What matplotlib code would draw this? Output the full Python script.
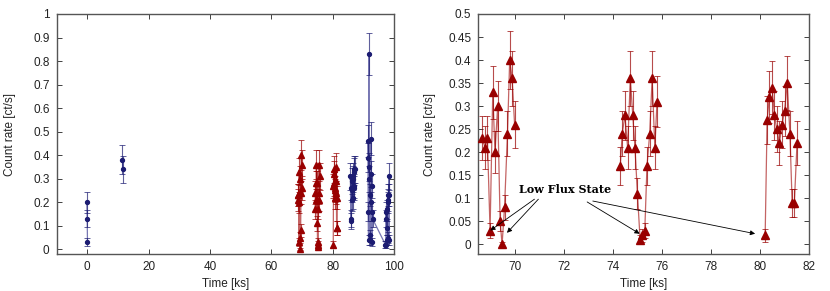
import matplotlib
matplotlib.use("Agg")
import matplotlib.pyplot as plt
from matplotlib.ticker import FuncFormatter

plt.rcParams['font.family'] = ['Liberation Sans', 'DejaVu Sans']

# ---------------- data (red: low/high flux segments, 100 s bins) ----------------
red1_t = [68.67, 68.77, 68.87, 68.98, 69.09, 69.18, 69.29, 69.39, 69.47, 69.57, 69.69, 69.78, 69.88, 69.98]
red1_r = [0.23, 0.21, 0.23, 0.03, 0.33, 0.20, 0.30, 0.05, 0.00, 0.08, 0.24, 0.40, 0.36, 0.26]
red1_e = [0.048, 0.046, 0.048, 0.017, 0.057, 0.045, 0.055, 0.022, 0.005, 0.028, 0.049, 0.063, 0.060, 0.051]

red2_t = [74.29, 74.37, 74.48, 74.59, 74.70, 74.80, 74.89, 74.99, 75.10, 75.19, 75.29, 75.38, 75.49, 75.59, 75.70, 75.79]
red2_r = [0.17, 0.24, 0.28, 0.21, 0.36, 0.28, 0.21, 0.11, 0.01, 0.02, 0.03, 0.17, 0.24, 0.36, 0.21, 0.31]
red2_e = [0.041, 0.049, 0.053, 0.046, 0.060, 0.053, 0.046, 0.033, 0.010, 0.014, 0.017, 0.041, 0.049, 0.060, 0.046, 0.056]

red3_t = [80.20, 80.28, 80.37, 80.48, 80.58, 80.67, 80.78, 80.89, 80.99, 81.10, 81.21, 81.30, 81.39, 81.50]
red3_r = [0.02, 0.27, 0.32, 0.34, 0.28, 0.25, 0.22, 0.26, 0.29, 0.35, 0.24, 0.09, 0.09, 0.22]
red3_e = [0.014, 0.052, 0.057, 0.058, 0.053, 0.050, 0.047, 0.051, 0.054, 0.059, 0.049, 0.030, 0.030, 0.047]

# ---------------- data (blue: other segments) ----------------
blue1_t = [-0.1, 0.0, 0.1]
blue1_r = [0.20, 0.13, 0.03]
blue1_e = [0.045, 0.036, 0.017]

blue2_t = [11.5, 11.6]
blue2_r = [0.38, 0.34]
blue2_e = [0.062, 0.058]

blue3_t = [85.8, 85.9, 86.0, 86.1, 86.2, 86.3, 86.4, 86.5, 86.6, 86.7, 86.8, 86.9, 87.0, 87.1, 87.2]
blue3_r = [0.31, 0.13, 0.12, 0.26, 0.21, 0.29, 0.25, 0.30, 0.22, 0.31, 0.27, 0.34, 0.26, 0.33, 0.34]
blue3_e = [0.056, 0.036, 0.035, 0.051, 0.046, 0.054, 0.050, 0.055, 0.047, 0.056, 0.052, 0.058, 0.051, 0.057, 0.058]

blue4_t = [91.4, 91.5, 91.6, 91.7, 91.8, 91.9, 92.0, 92.1, 92.2, 92.3, 92.4, 92.5, 92.6, 92.7, 92.8, 92.9, 93.0,
           97.2, 97.3, 97.4, 97.5, 97.6, 97.7, 97.8, 97.9, 98.0, 98.1, 98.2, 98.3, 98.4, 98.5]
blue4_r = [0.46, 0.39, 0.16, 0.04, 0.83, 0.35, 0.30, 0.06, 0.23, 0.04, 0.32, 0.47, 0.20, 0.27, 0.03, 0.16, 0.13,
           0.02, 0.02, 0.16, 0.13, 0.09, 0.17, 0.04, 0.05, 0.20, 0.23, 0.21, 0.31, 0.04, 0.23]
blue4_e = [0.068, 0.062, 0.040, 0.020, 0.091, 0.059, 0.055, 0.024, 0.048, 0.020, 0.057, 0.069, 0.045, 0.052, 0.017, 0.040, 0.036,
           0.014, 0.014, 0.040, 0.036, 0.030, 0.041, 0.020, 0.022, 0.045, 0.048, 0.046, 0.056, 0.020, 0.048]

red_groups = [(red1_t, red1_r, red1_e), (red2_t, red2_r, red2_e), (red3_t, red3_r, red3_e)]
blue_groups = [(blue1_t, blue1_r, blue1_e), (blue2_t, blue2_r, blue2_e),
               (blue3_t, blue3_r, blue3_e), (blue4_t, blue4_r, blue4_e)]

left_xticks = [0, 20, 40, 60, 80, 100]
left_yticks = [0, 0.1, 0.2, 0.3, 0.4, 0.5, 0.6, 0.7, 0.8, 0.9, 1]
right_xticks = [70, 72, 74, 76, 78, 80, 82]
right_yticks = [0, 0.05, 0.1, 0.15, 0.2, 0.25, 0.3, 0.35, 0.4, 0.45, 0.5]

annot_text = "Low Flux State"
annot_pos = (70.15, 0.12)
arrow_starts = [(70.79, 0.098), (70.95, 0.098), (72.94, 0.092), (73.17, 0.094)]
arrow_ends = [(68.99, 0.030), (69.67, 0.025), (75.08, 0.023), (79.79, 0.023)]

RED = '#990000'
BLUE = '#1c1c72'

W, H = 830, 291
fig = plt.figure(figsize=(W / 100, H / 100), dpi=100)
axL = fig.add_axes([56.5 / W, (H - 254) / H, (394 - 56.5) / W, 240 / H])
axR = fig.add_axes([478.3 / W, (H - 254) / H, (809.3 - 478.3) / W, 240 / H])


def draw(ax, groups, color, marker, ms, lcolor):
    for t, r, e in groups:
        ax.plot(t, r, color=lcolor, lw=0.9, alpha=0.75, zorder=2)
        ax.errorbar(t, r, yerr=e, fmt='none', ecolor=color, elinewidth=0.8,
                    capsize=2, capthick=0.7, alpha=0.7, zorder=3)
        ax.plot(t, r, linestyle='none', marker=marker, ms=ms, color=color,
                mec=color, zorder=4)


draw(axL, red_groups, RED, '^', 5.0, '#b03030')
draw(axL, blue_groups, BLUE, 'o', 2.8, '#4a4a9a')
draw(axR, red_groups, RED, '^', 5.3, '#b03030')

fmt = FuncFormatter(lambda v, p: '%g' % v)
for ax, xt, yt, xl, yl, lp in [(axL, left_xticks, left_yticks, (-10, 100), (-0.02, 1.0), 12),
                               (axR, right_xticks, right_yticks, (68.5, 82), (-0.021, 0.5), 9)]:
    ax.set_xlim(*xl)
    ax.set_ylim(*yl)
    ax.set_xticks(xt)
    ax.set_yticks(yt)
    ax.xaxis.set_major_formatter(fmt)
    ax.yaxis.set_major_formatter(fmt)
    ax.tick_params(direction='in', length=3.5, width=0.6, top=True, right=True,
                   labelsize=8.5, colors='#222222', pad=5)
    for s in ax.spines.values():
        s.set_color('#555555')
        s.set_linewidth(1.0)
    ax.set_xlabel('Time [ks]', fontsize=8.5, color='#222222', labelpad=4)
    ax.set_ylabel('Count rate [ct/s]', fontsize=8.5, color='#222222', labelpad=lp)

axR.text(annot_pos[0], annot_pos[1], annot_text, ha='left', va='center',
         fontsize=8, fontweight='bold', family=['DejaVu Serif'], zorder=6)
for s, e in zip(arrow_starts, arrow_ends):
    axR.annotate('', xy=e, xytext=s,
                 arrowprops=dict(arrowstyle='-|>', color='black', lw=0.6,
                                 mutation_scale=7, shrinkA=0, shrinkB=0), zorder=6)

fig.savefig('out.png', dpi=100)
